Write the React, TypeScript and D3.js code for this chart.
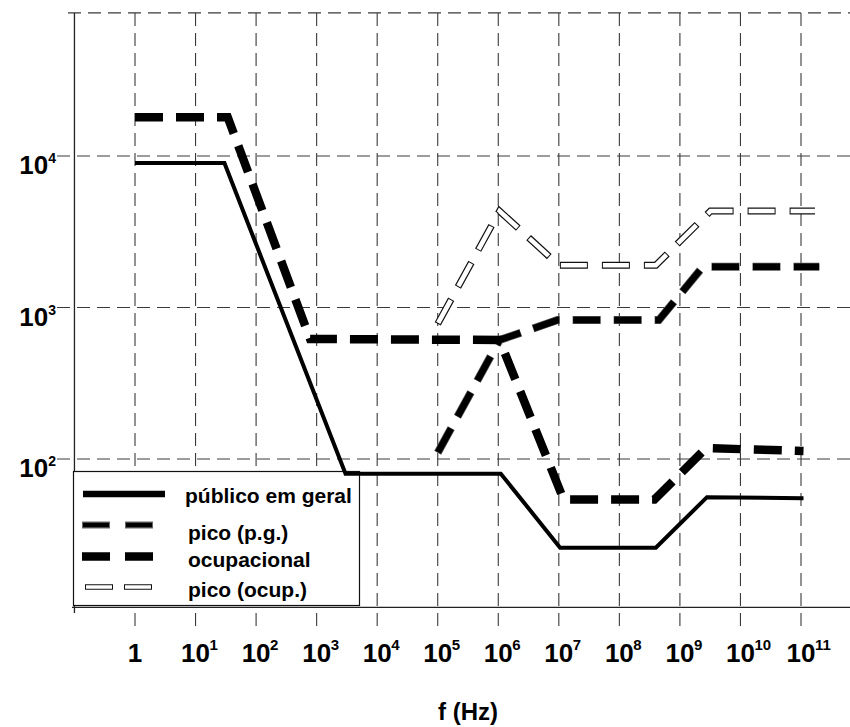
import React, { Component } from "react";
import * as d3 from "d3";

// limites de referência (V/m)
const publicoF = [1, 30, 3000, 1.1e6, 1.05e7, 4e8, 2.8e9, 1.1e11];
const publicoV = [9000, 9000, 80, 80, 26, 26, 56, 55];

const ocupF = [1, 34, 780, 1.05e6, 1.2e7, 3.8e8, 2.7e9, 1.1e11];
const ocupV = [18000, 18000, 620, 610, 54, 54, 118, 113];

const picoPgF = [1e5, 1.05e6, 9.5e6, 4.5e8, 2.4e9, 2e11];
const picoPgV = [110, 610, 826, 826, 1860, 1860];

const picoOcF = [1e5, 1.05e6, 1e7, 4e8, 3.2e9, 1.7e11];
const picoOcV = [780, 4330, 1900, 1900, 4330, 4330];

const xTickExps = [0, 1, 2, 3, 4, 5, 6, 7, 8, 9, 10, 11];
const yTickExps = [2, 3, 4];
const legendLabels = ["público em geral", "pico (p.g.)", "ocupacional", "pico (ocup.)"];

const FONT = "'Liberation Sans', Arial, Helvetica, sans-serif";

class App extends Component {
  svgRef = React.createRef<SVGSVGElement>();

  componentDidMount() {
    const svg = d3.select(this.svgRef.current);
    svg.selectAll("*").remove();

    const x = d3.scaleLog().domain([1, 1e11]).range([135, 801]);
    const y = d3.scaleLog().domain([100, 1e4]).range([459, 156]);

    const xLeft = x(0.1);
    const xRight = 850;
    const yTop = y(88000);
    const yBottom = y(10.5);

    // grade tracejada
    const grid = svg.append("g").attr("stroke", "#3a3a3a").attr("stroke-width", 1.1)
      .attr("stroke-dasharray", "13,7").attr("fill", "none");

    xTickExps.forEach(e => {
      grid.append("line")
        .attr("x1", x(Math.pow(10, e))).attr("x2", x(Math.pow(10, e)))
        .attr("y1", yTop).attr("y2", 630);
    });
    yTickExps.forEach(e => {
      grid.append("line")
        .attr("x1", 57).attr("x2", xRight)
        .attr("y1", y(Math.pow(10, e))).attr("y2", y(Math.pow(10, e)));
    });
    grid.append("line").attr("x1", 68).attr("x2", xRight).attr("y1", yTop).attr("y2", yTop);

    // eixos
    svg.append("line").attr("x1", xLeft).attr("x2", xLeft).attr("y1", yTop).attr("y2", 613)
      .attr("stroke", "#222").attr("stroke-width", 1.3);
    svg.append("line").attr("x1", 72).attr("x2", xRight).attr("y1", yBottom).attr("y2", yBottom)
      .attr("stroke", "#222").attr("stroke-width", 1.3);

    // rótulos do eixo x
    xTickExps.forEach(e => {
      const px = x(Math.pow(10, e));
      if (e === 0) {
        svg.append("text").attr("x", px).attr("y", 662).attr("text-anchor", "middle")
          .attr("font-family", FONT).attr("font-weight", "bold").attr("font-size", 26).text("1");
        return;
      }
      svg.append("text").attr("x", px).attr("y", 662).attr("text-anchor", "middle")
        .attr("font-family", FONT).attr("font-weight", "bold").attr("font-size", 26).text("10");
      svg.append("text").attr("x", px + 14).attr("y", 650)
        .attr("font-family", FONT).attr("font-weight", "bold").attr("font-size", 15).text(String(e));
    });

    // rótulos do eixo y
    yTickExps.forEach(e => {
      const t = svg.append("text").attr("x", 56).attr("y", y(Math.pow(10, e)) + 18)
        .attr("text-anchor", "end").attr("font-family", FONT).attr("font-weight", "bold");
      t.append("tspan").attr("font-size", 26).text("10");
      t.append("tspan").attr("font-size", 14).attr("dy", -11).text(String(e));
    });

    svg.append("text").attr("x", 438).attr("y", 720)
      .attr("font-family", FONT).attr("font-weight", "bold").attr("font-size", 24).text("f (Hz)");

    // caixa da legenda (cobre a grade)
    svg.append("rect").attr("x", 73.5).attr("y", 471.5).attr("width", 286).attr("height", 134)
      .attr("fill", "white").attr("stroke", "#111").attr("stroke-width", 1.2);

    const line = d3.line<[number, number]>().x(d => x(d[0])).y(d => y(d[1]));
    const pts = (f: number[], v: number[]) => f.map((d, i) => [d, v[i]] as [number, number]);

    const plot = svg.append("g").attr("fill", "none");

    // pico (ocup.) - tracejado vazado
    plot.append("path").attr("d", line(pts(picoOcF, picoOcV)))
      .attr("stroke", "#111").attr("stroke-width", 7).attr("stroke-dasharray", "28,14");
    plot.append("path").attr("d", line(pts(picoOcF, picoOcV)))
      .attr("stroke", "white").attr("stroke-width", 4.6).attr("stroke-dasharray", "26,16")
      .attr("stroke-dashoffset", -1);

    // pico (p.g.)
    plot.append("path").attr("d", line(pts(picoPgF, picoPgV)))
      .attr("stroke", "#555").attr("stroke-width", 8).attr("stroke-dasharray", "28,13");
    plot.append("path").attr("d", line(pts(picoPgF, picoPgV)))
      .attr("stroke", "black").attr("stroke-width", 6.5).attr("stroke-dasharray", "27,14")
      .attr("stroke-dashoffset", -0.5);

    // ocupacional
    plot.append("path").attr("d", line(pts(ocupF, ocupV)))
      .attr("stroke", "black").attr("stroke-width", 8.5).attr("stroke-dasharray", "28,13");

    // público em geral
    plot.append("path").attr("d", line(pts(publicoF, publicoV)))
      .attr("stroke", "black").attr("stroke-width", 4);

    // legenda
    const lg = svg.append("g").attr("fill", "none");
    lg.append("line").attr("x1", 83).attr("x2", 165).attr("y1", 494).attr("y2", 494)
      .attr("stroke", "black").attr("stroke-width", 6.5);

    lg.append("line").attr("x1", 82).attr("x2", 153).attr("y1", 525).attr("y2", 525)
      .attr("stroke", "#666").attr("stroke-width", 7).attr("stroke-dasharray", "28,15");
    lg.append("line").attr("x1", 82).attr("x2", 153).attr("y1", 525).attr("y2", 525)
      .attr("stroke", "black").attr("stroke-width", 4.5).attr("stroke-dasharray", "26,17")
      .attr("stroke-dashoffset", -1);

    lg.append("line").attr("x1", 82).attr("x2", 155).attr("y1", 556.5).attr("y2", 556.5)
      .attr("stroke", "black").attr("stroke-width", 8.5).attr("stroke-dasharray", "28,15");

    lg.append("line").attr("x1", 85).attr("x2", 152).attr("y1", 587).attr("y2", 587)
      .attr("stroke", "#111").attr("stroke-width", 5.5).attr("stroke-dasharray", "28,11");
    lg.append("line").attr("x1", 85).attr("x2", 152).attr("y1", 587).attr("y2", 587)
      .attr("stroke", "white").attr("stroke-width", 3.3).attr("stroke-dasharray", "26,13")
      .attr("stroke-dashoffset", -1);

    const textPos = [[185, 503], [188, 540], [188, 567], [188, 597]];
    legendLabels.forEach((label, i) => {
      svg.append("text").attr("x", textPos[i][0]).attr("y", textPos[i][1])
        .attr("font-family", FONT).attr("font-weight", "bold").attr("font-size", 21)
        .attr("fill", "black").text(label);
    });
  }

  render() {
    return (
      <svg ref={this.svgRef} width={850} height={727}
        style={{ position: "absolute", left: 0, top: 0, background: "white" }} />
    );
  }
}

export default App;
